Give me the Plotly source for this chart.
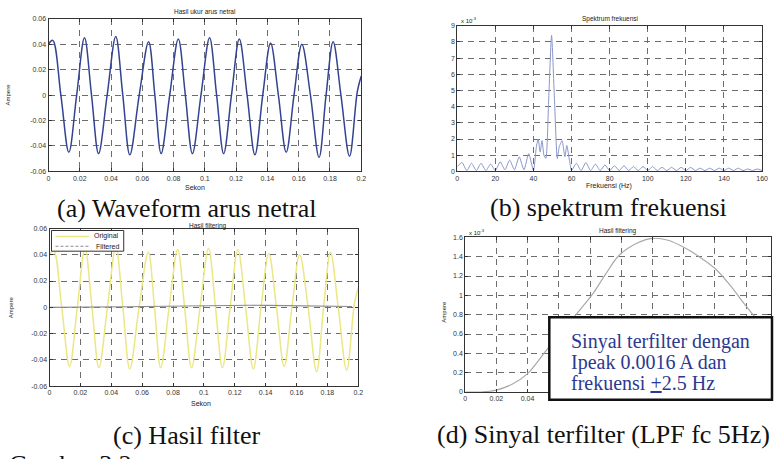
import plotly.graph_objects as go

# ---------------- data ----------------
# (a) measured neutral current (s, A) - peaks, troughs and zero crossings read from the picture
t_a = [0.0, 0.0027, 0.0079, 0.013, 0.018, 0.023, 0.0275, 0.032, 0.0375, 0.043, 0.0475,
       0.052, 0.058, 0.064, 0.068, 0.072, 0.0775, 0.083, 0.0875, 0.092, 0.0975, 0.103,
       0.1075, 0.112, 0.117, 0.122, 0.127, 0.132, 0.137, 0.142, 0.147, 0.152, 0.157,
       0.162, 0.1675, 0.173, 0.1775, 0.182, 0.187, 0.1925, 0.1975, 0.2]
i_a = [0.040, 0.043, 0.0, -0.045, 0.0, 0.045, 0.0, -0.046, 0.0, 0.046, 0.0,
       -0.047, 0.0, 0.042, 0.0, -0.046, 0.0, 0.044, 0.0, -0.046, 0.0, 0.045,
       0.0, -0.046, 0.0, 0.044, 0.0, -0.047, 0.0, 0.041, 0.0, -0.045, 0.0,
       0.040, 0.0, -0.049, 0.0, 0.042, 0.0, -0.048, 0.003, 0.015]

# (b) spectrum (Hz, x10^-3)
f_b = [0, 2.5, 5, 7.5, 10, 12.5, 15, 17.5, 20, 22.5, 25, 27.5, 30, 32.5, 35, 37.5, 40,
       41.5, 42.5, 43.5, 44.5, 45.5, 46.5, 48, 49.5, 51, 52.5, 53.5, 55, 56.5, 57.5, 59, 60,
       62.5, 65, 67.5, 70, 72.5, 75, 77.5, 80, 82.5, 85, 87.5, 90, 92.5, 95, 97.5, 100,
       102.5, 105, 107.5, 110, 112.5, 115, 117.5, 120, 122.5, 125, 127.5, 130, 132.5, 135,
       137.5, 140, 142.5, 145, 147.5, 150, 152.5, 155, 157.5, 160]
s_b = [0.3, 0.55, 0.05, 0.5, 0.05, 0.5, 0.05, 0.45, 0.05, 0.6, 0.1, 0.7, 0.1, 0.9, 0.1, 1.1, 0.05,
       1.5, 2.0, 1.2, 1.9, 1.0, 0.8, 4.5, 8.4, 4.5, 0.8, 1.5, 1.9, 0.9, 1.6, 0.6, 0.05,
       0.5, 0.05, 0.55, 0.05, 0.45, 0.05, 0.4, 0.05, 0.35, 0.05, 0.35, 0.05, 0.3, 0.05, 0.3, 0.05,
       0.3, 0.05, 0.25, 0.05, 0.25, 0.05, 0.25, 0.05, 0.25, 0.05, 0.2, 0.05, 0.2, 0.05,
       0.2, 0.05, 0.2, 0.05, 0.2, 0.05, 0.15, 0.05, 0.15, 0.05]

# (d) filtered signal (s, x10^-3 A)
t_d = [0.0, 0.01, 0.02, 0.03, 0.04, 0.052, 0.062, 0.071, 0.082, 0.09, 0.099, 0.11, 0.12,
       0.13, 0.141, 0.15, 0.16, 0.17, 0.178, 0.185, 0.196]
y_d = [0.0, 0.0, 0.02, 0.08, 0.19, 0.43, 0.62, 0.80, 1.02, 1.22, 1.42, 1.54, 1.59,
       1.57, 1.49, 1.40, 1.28, 1.10, 0.93, 0.79, 0.60]

legend_names = ["Original", "Filtered"]

tick_t = [0, 0.02, 0.04, 0.06, 0.08, 0.1, 0.12, 0.14, 0.16, 0.18, 0.2]
tick_t_txt = ["0", "0.02", "0.04", "0.06", "0.08", "0.1", "0.12", "0.14", "0.16", "0.18", "0.2"]
tick_i = [-0.06, -0.04, -0.02, 0, 0.02, 0.04, 0.06]
tick_i_txt = ["-0.06", "-0.04", "-0.02", "0", "0.02", "0.04", "0.06"]
tick_f = [0, 20, 40, 60, 80, 100, 120, 140, 160]
tick_s = [0, 1, 2, 3, 4, 5, 6, 7, 8, 9]
tick_d = [0, 0.2, 0.4, 0.6, 0.8, 1.0, 1.2, 1.4, 1.6]
tick_d_txt = ["0", "0.2", "0.4", "0.6", "0.8", "1", "1.2", "1.4", "1.6"]

W, H = 777, 459
def px(x): return x / W
def py(y): return 1 - y / H

col_a = "#34438f"
col_b = "#8a96c8"
col_orig = "#ece683"
col_filt = "#8a8a8a"
col_d = "#a9a9a9"

fig = go.Figure()
fig.add_trace(go.Scatter(x=t_a, y=i_a, mode="lines", line=dict(color=col_a, width=1.5, shape="spline", smoothing=1.0),
                         xaxis="x", yaxis="y", showlegend=False))
fig.add_trace(go.Scatter(x=f_b, y=s_b, mode="lines", line=dict(color=col_b, width=1, shape="spline", smoothing=0.6),
                         xaxis="x2", yaxis="y2", showlegend=False))
fig.add_trace(go.Scatter(x=t_a, y=i_a, mode="lines", name=legend_names[0], line=dict(color=col_orig, width=1.5, shape="spline", smoothing=1.0),
                         xaxis="x3", yaxis="y3", showlegend=False))
fig.add_trace(go.Scatter(x=t_d, y=[v * 1e-3 for v in y_d], mode="lines", name=legend_names[1], line=dict(color=col_filt, width=1.2),
                         xaxis="x3", yaxis="y3", showlegend=False))
fig.add_trace(go.Scatter(x=t_d, y=y_d, mode="lines", line=dict(color=col_d, width=1.2, shape="spline"),
                         xaxis="x4", yaxis="y4", showlegend=False))

tickfont = dict(family="Liberation Sans, Arial", size=7, color="#333")
common = dict(showline=True, linecolor="#333", linewidth=1, mirror="ticks", ticks="inside", ticklen=3,
              tickcolor="#333", showgrid=True, gridcolor="#6d6d6d", gridwidth=1, griddash="6px,5px",
              zeroline=False, tickfont=tickfont)

fig.update_layout(
    width=W, height=H, margin=dict(l=0, r=0, t=0, b=0),
    paper_bgcolor="white", plot_bgcolor="white", showlegend=False,
    xaxis=dict(domain=[px(47), px(363)], range=[0, 0.2], tickvals=tick_t, ticktext=tick_t_txt, anchor="y", **common),
    yaxis=dict(domain=[py(170), py(15)], range=[-0.06, 0.06], tickvals=tick_i, ticktext=tick_i_txt, anchor="x", **common),
    xaxis2=dict(domain=[px(460), px(768)], range=[0, 160], tickvals=tick_f, anchor="y2", **common),
    yaxis2=dict(domain=[py(170), py(22)], range=[0, 9], tickvals=tick_s, anchor="x2", **common),
    xaxis3=dict(domain=[px(48), px(360)], range=[0, 0.2], tickvals=tick_t, ticktext=tick_t_txt, anchor="y3", **common),
    yaxis3=dict(domain=[py(388), py(228)], range=[-0.06, 0.06], tickvals=tick_i, ticktext=tick_i_txt, anchor="x3", **common),
    xaxis4=dict(domain=[px(468), 1.0], range=[0, 0.196], tickvals=tick_t, ticktext=tick_t_txt, anchor="y4", **common),
    yaxis4=dict(domain=[py(394), py(237)], range=[0, 1.6], tickvals=tick_d, ticktext=tick_d_txt, anchor="x4", **common),
)

ann = []
def A(x, y, text, size=7, color="#222", family="Liberation Sans, Arial", xanchor="center", yanchor="middle", angle=0):
    ann.append(dict(x=px(x), y=py(y), xref="paper", yref="paper", text=text, showarrow=False,
                    font=dict(family=family, size=size, color=color), xanchor=xanchor, yanchor=yanchor,
                    textangle=angle))

# panel titles
A(205, 8, "Hasil ukur arus netral", size=6.5)
A(614, 15, "Spektrum frekuensi", size=6.5)
A(208, 225, "Hasil filtering", size=6.5)
A(622, 231, "Hasil filtering", size=6.5)
# axis labels
A(195, 186, "Sekon")
A(613, 185, "Frekuensi (Hz)")
A(201, 406, "Sekon")
A(6, 92, "Ampere", size=6, angle=-90)
A(9, 308, "Ampere", size=6, angle=-90)
A(447, 312, "Ampere", size=6, angle=-90)
# exponents
A(462, 16, "x 10<sup>-3</sup>", size=6, xanchor="left")
A(470, 232, "x 10<sup>-3</sup>", size=6, xanchor="left")
# legend (panel c)
A(120, 236, legend_names[0], size=7, xanchor="right")
A(120, 246, legend_names[1], size=7, xanchor="right")
# captions
serif = "Liberation Serif, Times New Roman"
A(186, 208, "(a) Waveform arus netral", size=26, family=serif, color="#111")
A(613, 207, "(b) spektrum frekuensi", size=26, family=serif, color="#111")
A(187, 438, "(c) Hasil filter", size=26, family=serif, color="#111")
A(608, 437, "(d) Sinyal terfilter (LPF fc 5Hz)", size=26, family=serif, color="#111")
A(5, 451, "Gambar 3.2", size=26, family=serif, color="#111", xanchor="left", yanchor="top")
# box text
navy = "#2b3990"
A(573, 343, "Sinyal terfilter dengan", size=20, family=serif, color=navy, xanchor="left")
A(573, 364, "Ipeak 0.0016 A dan", size=20, family=serif, color=navy, xanchor="left")
A(573, 385, "frekuensi <u>+</u>2.5 Hz", size=20, family=serif, color=navy, xanchor="left")
fig.update_layout(annotations=ann)

# legend box and samples
fig.add_shape(type="rect", xref="paper", yref="paper", x0=px(50), x1=px(123), y0=py(251), y1=py(230),
              fillcolor="white", line=dict(color="#333", width=1), layer="above")
fig.add_shape(type="line", xref="paper", yref="paper", x0=px(54), x1=px(88), y0=py(236), y1=py(236),
              line=dict(color=col_orig, width=1.5), layer="above")
fig.add_shape(type="line", xref="paper", yref="paper", x0=px(54), x1=px(88), y0=py(246), y1=py(246),
              line=dict(color=col_filt, width=1.2, dash="3px,2px"), layer="above")
# annotation box in panel d
fig.add_shape(type="rect", xref="paper", yref="paper", x0=px(553), x1=px(778), y0=py(402), y1=py(318),
              fillcolor="white", line=dict(color="#111", width=2.5), layer="above")

fig.write_html("out.html")
